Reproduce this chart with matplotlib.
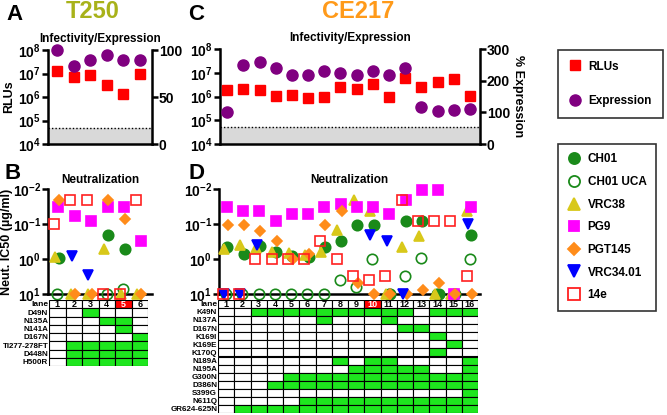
import numpy as np
import matplotlib
matplotlib.use('Agg')
import matplotlib.pyplot as plt
from matplotlib.lines import Line2D
from matplotlib.patches import Rectangle

plt.rcParams['font.family'] = ['Liberation Sans', 'DejaVu Sans']
plt.rcParams['font.weight'] = 'bold'
plt.rcParams['axes.titleweight'] = 'bold'
plt.rcParams['axes.labelweight'] = 'bold'
plt.rcParams['mathtext.fontset'] = 'custom'
plt.rcParams['mathtext.rm'] = 'Liberation Sans:weight=bold'
plt.rcParams['mathtext.it'] = 'Liberation Sans:weight=bold'
plt.rcParams['mathtext.bf'] = 'Liberation Sans:weight=bold'
plt.rcParams['mathtext.default'] = 'bf'

nan = np.nan

# ---- T250 (panels A, B) ----
t_lanes = [1, 2, 3, 4, 5, 6]
t_rlu = [1.3e7, 7e6, 8.7e6, 3.2e6, 1.35e6, 1.0e7]
t_expr = [100, 83, 89, 95, 89, 89]

t_ch01 = [0.91, nan, nan, 0.21, 0.51, nan]
t_ch01uca = [10, nan, nan, 10, 7.4, nan]
t_vrc38 = [0.85, 10, 10, 0.52, 10, 10]
t_pg9 = [0.032, 0.060, 0.081, 0.033, 0.032, 0.30]
t_pgt145 = [0.021, 10, 10, 0.021, 0.072, 10]
t_vrc34 = [nan, 0.81, 2.8, nan, nan, nan]
t_14e = [0.10, 0.021, 0.021, 10, 10, 0.021]

t_muts = ['D49N', 'N135A', 'N141A', 'D167N', 'TI277-278FT', 'D448N', 'H500R']
t_cells = [[3], [4, 5], [5], [6], [2, 3, 4, 5, 6], [2, 3, 4, 5, 6], [2, 3, 4, 5, 6]]
t_hilite = 5

# ---- CE217 (panels C, D) ----
c_lanes = list(range(1, 17))
c_rlu = [1.9e6, 2.0e6, 1.8e6, 1.1e6, 1.2e6, 0.9e6, 1.0e6, 2.6e6,
         2.0e6, 3.4e6, 1.0e6, 6.0e6, 2.6e6, 4.0e6, 5.5e6, 1.1e6]
c_expr = [100, 250, 258, 239, 219, 219, 229, 224,
          219, 229, 219, 239, 118, 103, 107, 109]

c_ch01 = [0.44, 0.71, 0.42, 0.62, 0.81, 0.85, 0.46, 0.30,
          0.105, 0.105, 10, 0.081, 0.081, 10, 10, 0.21]
c_ch01uca = [10, 10, 10, 10, 10, 10, 10, 4.0,
             6.2, 1.0, 10, 3.0, 0.91, 10, 10, 1.0]
c_vrc38 = [0.52, 0.40, 0.47, 0.62, 0.66, 0.76, 0.62, 0.15,
           0.021, 0.042, 10, 0.44, 0.22, 10, 10, 0.042]
c_pg9 = [0.033, 0.042, 0.042, 0.081, 0.051, 0.051, 0.033, 0.026,
         0.033, 0.033, 0.051, 0.021, 0.011, 0.011, 10, 0.033]
c_pgt145 = [0.105, 0.105, 0.155, 0.30, 1.02, 0.72, 0.105, 0.042,
            4.9, 10, 10, 10, 7.6, 4.9, 10, 10]
c_vrc34 = [10, 10, 0.41, nan, nan, nan, nan, nan,
           nan, 0.20, 0.30, 10, nan, nan, nan, 0.10]
c_14e = [10, 10, 1.0, 1.0, 1.0, 1.0, 0.30, 1.0,
         3.0, 4.0, 3.0, 0.021, 0.081, 0.081, 0.081, 3.0]

c_muts = ['K49N', 'N137A', 'D167N', 'K169I', 'K169E', 'K170Q', 'N189A',
          'N195A', 'G300N', 'D386N', 'S399G', 'N611Q', 'GR624-625N']
c_cells = [[3, 4, 5, 6, 7, 8, 9, 10, 11, 12, 14, 15, 16], [7, 11], [12, 13],
           [14], [15], [14], [8, 10, 11, 16], [9, 10, 11, 12, 13, 16],
           list(range(5, 17)), list(range(4, 17)), [16], list(range(6, 17)),
           list(range(2, 17))]
c_hilite = 10

ab_names = ['CH01', 'CH01 UCA', 'VRC38', 'PG9', 'PGT145', 'VRC34.01', '14e']

# styles: marker, face, edge, size, x offset
ab_style = [('o', '#1a8a1a', '#1a8a1a', 7.5, 0.08),
            ('o', 'none', '#1a8a1a', 7.5, 0.0),
            ('^', '#d8c81a', '#d8c81a', 7.5, -0.15),
            ('s', '#ff00ff', '#ff00ff', 7, 0.05),
            ('D', '#ff8c1a', '#ff8c1a', 5.5, 0.1),
            ('v', '#0000ff', '#0000ff', 7.5, -0.12),
            ('s', 'none', '#ff2020', 7.5, -0.2)]

GREEN = '#1ee61e'

fig = plt.figure(figsize=(6.67, 4.15), dpi=100)


def px(l, t, r, b):
    return [l / 667, 1 - b / 415, (r - l) / 667, (b - t) / 415]


def style_spines(ax, right=False):
    for s in ['top', 'right', 'left', 'bottom']:
        ax.spines[s].set_visible(False)
    ax.spines['left'].set_visible(not right)
    ax.spines['right'].set_visible(right)
    ax.spines['bottom'].set_visible(True)
    for s in ax.spines.values():
        s.set_linewidth(1.8)
    ax.tick_params(axis='y', width=1.8, length=4, labelsize=10, pad=1)
    ax.tick_params(axis='x', bottom=False, labelbottom=False)


def infect(ax, lanes, rlu, expr, emax, eticks, xlim):
    ax.set_yscale('log')
    ax.set_ylim(1e4, 1e8)
    ax.set_xlim(xlim)
    ax.axhspan(1e4, 5e4, color='#d9d9d9', zorder=0, lw=0)
    ax.axhline(5e4, color='k', ls=(0, (1, 1.5)), lw=1)
    ax.set_yticks([1e4, 1e5, 1e6, 1e7, 1e8])
    ax.set_yticklabels([r'$10^{%d}$' % k for k in range(4, 9)])
    ax.minorticks_off()
    style_spines(ax)
    ax2 = ax.twinx()
    ax2.set_ylim(0, emax)
    ax2.set_xlim(xlim)
    ax2.set_yticks(eticks)
    style_spines(ax2, right=True)
    ax2.spines['bottom'].set_visible(False)
    ax.plot(lanes, rlu, 's', color='#ff0000', ms=7, ls='none', zorder=3, clip_on=False)
    ax2.plot(lanes, expr, 'o', color='#800080', ms=8, ls='none', zorder=3, clip_on=False)
    return ax2


def neut(ax, lanes, series, xlim):
    ax.set_yscale('log')
    ax.set_ylim(10, 0.01)
    ax.set_xlim(xlim)
    ax.set_yticks([0.01, 0.1, 1, 10])
    ax.set_yticklabels([r'$10^{-2}$', r'$10^{-1}$', r'$10^{0}$', r'$10^{1}$'])
    ax.minorticks_off()
    style_spines(ax)
    x = np.array(lanes, dtype=float)
    for vals, (m, fc, ec, ms, dx) in zip(series, ab_style):
        ax.plot(x + dx, vals, ls='none', marker=m, mfc=fc, mec=ec, ms=ms,
                mew=1.2, clip_on=False, zorder=3)


def table(ax, n, muts, cells, hilite):
    ax.set_xlim(0.5, n + 0.5)
    ax.set_ylim(len(muts) + 1, 0)
    ax.axis('off')
    for j in range(1, n + 1):
        fc = '#ff0000' if j == hilite else 'white'
        ax.add_patch(Rectangle((j - 0.5, 0), 1, 1, fc=fc, ec='k', lw=0.8))
        ax.text(j, 0.55, str(j), ha='center', va='center', fontsize=6.5,
                color='white' if j == hilite else 'k')
    ax.text(0.45, 0.6, 'lane', ha='right', va='center', fontsize=6)
    for i, (name, lanes) in enumerate(zip(muts, cells)):
        for j in range(1, n + 1):
            fc = GREEN if j in lanes else 'white'
            ax.add_patch(Rectangle((j - 0.5, i + 1), 1, 1, fc=fc, ec='k', lw=0.8))
        ax.text(0.45, i + 1.6, name, ha='right', va='center', fontsize=5.8)


xlimA = (0.44, 6.74)
xlimC = (0.56, 16.62)

axA = fig.add_axes(px(48, 50, 152, 144))
a2 = infect(axA, t_lanes, t_rlu, t_expr, 100, [0, 50, 100], xlimA)
axA.set_ylabel('RLUs', fontsize=9, labelpad=2)
axA.set_title('Infectivity/Expression', fontsize=8.5, pad=6)

axC = fig.add_axes(px(220, 49, 480, 144))
c2 = infect(axC, c_lanes, c_rlu, c_expr, 300, [0, 100, 200, 300], xlimC)
c2.set_ylabel('% Expression', fontsize=9, rotation=270, labelpad=10)
axC.set_title('Infectivity/Expression', fontsize=8.5, pad=6)

axB = fig.add_axes(px(48, 189, 152, 294))
neut(axB, t_lanes, [t_ch01, t_ch01uca, t_vrc38, t_pg9, t_pgt145, t_vrc34, t_14e], xlimA)
axB.set_ylabel('Neut. IC50 (µg/ml)', fontsize=9, labelpad=0)
axB.set_title('Neutralization', fontsize=8.5, pad=4)

axD = fig.add_axes(px(219, 189, 480, 294))
neut(axD, c_lanes, [c_ch01, c_ch01uca, c_vrc38, c_pg9, c_pgt145, c_vrc34, c_14e], xlimC)
axD.set_title('Neutralization', fontsize=8.5, pad=4)

tabB = fig.add_axes(px(49, 300, 148, 366))
table(tabB, 6, t_muts, t_cells, t_hilite)
tabD = fig.add_axes(px(218, 300, 478, 413))
table(tabD, 16, c_muts, c_cells, c_hilite)

# panel letters and titles
fig.text(6 / 667, 1 - 14 / 415, 'A', fontsize=16, va='center')
fig.text(188 / 667, 1 - 14 / 415, 'C', fontsize=16, va='center')
fig.text(5 / 667, 1 - 173 / 415, 'B', fontsize=16, va='center')
fig.text(188 / 667, 1 - 173 / 415, 'D', fontsize=16, va='center')
fig.text(93 / 667, 1 - 12 / 415, 'T250', fontsize=17, color='#a8b21a', ha='center', va='center')
fig.text(358 / 667, 1 - 12 / 415, 'CE217', fontsize=17, color='#ff9a1a', ha='center', va='center')

# legends
h1 = [Line2D([], [], ls='none', marker='s', color='#ff0000', ms=7.5),
      Line2D([], [], ls='none', marker='o', color='#800080', ms=8)]
leg1 = fig.legend(h1, ['RLUs', 'Expression'], loc='upper left',
                  bbox_to_anchor=(558 / 667, 1 - 50 / 415), fontsize=8.5,
                  frameon=True, fancybox=False, edgecolor='k', borderaxespad=0,
                  labelspacing=1.9, handletextpad=0.6, borderpad=0.9,
                  handlelength=1.1)
leg1.get_frame().set_linewidth(1.2)

h2 = [Line2D([], [], ls='none', marker=m, mfc=fc, mec=ec, ms=ms + 0.5, mew=1.3)
      for (m, fc, ec, ms, dx) in ab_style]
leg2 = fig.legend(h2, ab_names, loc='upper left',
                  bbox_to_anchor=(558 / 667, 1 - 144 / 415), fontsize=8.5,
                  frameon=True, fancybox=False, edgecolor='k', borderaxespad=0,
                  labelspacing=0.9, handletextpad=0.6, borderpad=0.8,
                  handlelength=1.1)
leg2.get_frame().set_linewidth(1.2)

fig.savefig('out.png', dpi=100)
